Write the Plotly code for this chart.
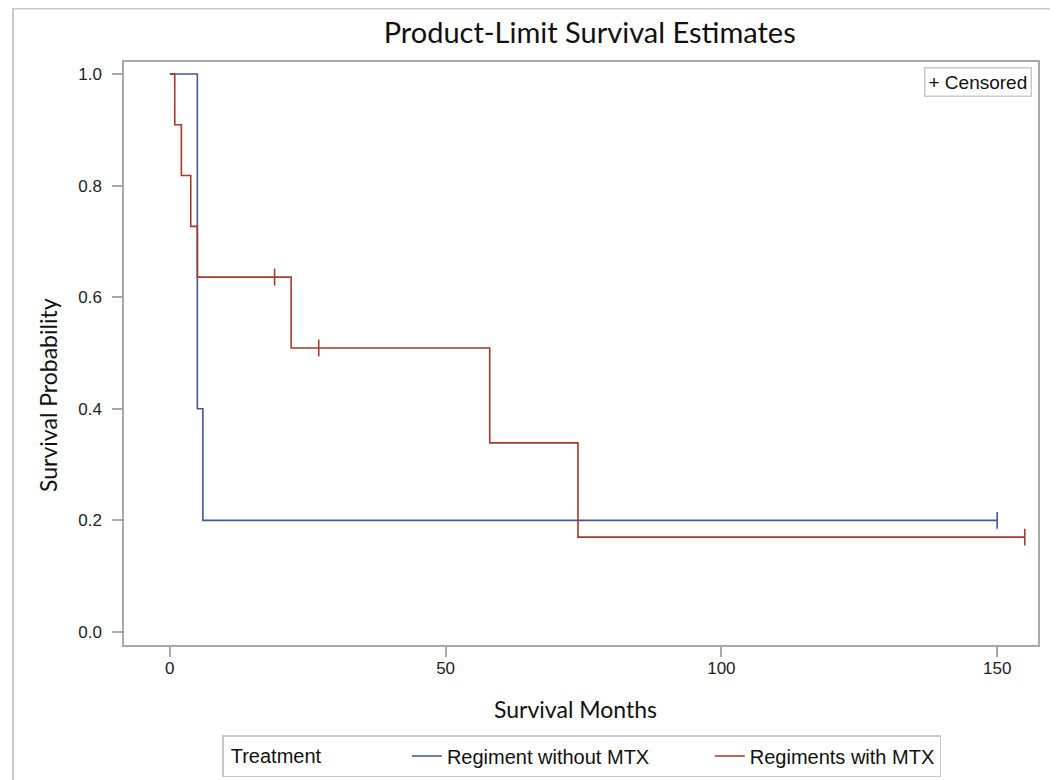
import plotly.graph_objects as go

# Kaplan-Meier step data
blue_name = "Regiment without MTX"
blue_times = [0, 5, 6, 150]
blue_surv = [1.0, 0.4, 0.2, 0.2]
blue_cens_t = [150]
blue_cens_s = [0.2]

red_name = "Regiments with MTX"
red_times = [0, 0.9, 2.1, 3.8, 5.0, 22, 58, 74, 155]
red_surv = [1.0, 0.909, 0.818, 0.727, 0.636, 0.509, 0.339, 0.170, 0.170]
red_cens_t = [19, 27, 155]
red_cens_s = [0.636, 0.509, 0.170]

x_ticks = [0, 50, 100, 150]
y_ticks = [0.0, 0.2, 0.4, 0.6, 0.8, 1.0]

BLUE = "#445694"
RED = "#A23A2E"
GRID = "#A8A8A8"
TXT = "#111111"

fig = go.Figure()
fig.add_trace(go.Scatter(x=blue_times, y=blue_surv, mode="lines", line_shape="hv",
                         line=dict(color=BLUE, width=1.6), name=blue_name + " " * 10))
fig.add_trace(go.Scatter(x=red_times, y=red_surv, mode="lines", line_shape="hv",
                         line=dict(color=RED, width=1.6), name=red_name))
fig.add_trace(go.Scatter(x=blue_cens_t, y=blue_cens_s, mode="markers", showlegend=False,
                         marker=dict(symbol="line-ns", size=12, line=dict(color=BLUE, width=1.6))))
fig.add_trace(go.Scatter(x=red_cens_t, y=red_cens_s, mode="markers", showlegend=False,
                         marker=dict(symbol="line-ns", size=12, line=dict(color=RED, width=1.6))))

tickfont = dict(family="Liberation Sans, Arial", size=17, color="#222")
fig.update_xaxes(range=[-8.3, 157.4], tickvals=x_ticks, ticks="outside", ticklen=10,
                 tickcolor=GRID, tickwidth=1.5, showline=True, linecolor=GRID, linewidth=1.5, mirror=True,
                 showgrid=False, zeroline=False, tickfont=tickfont, ticklabelstandoff=-3)
fig.update_yaxes(range=[-0.0233, 1.0215], tickvals=y_ticks, tickformat=".1f", ticks="outside",
                 ticklen=10, tickcolor=GRID, tickwidth=1.5, showline=True, linecolor=GRID, linewidth=1.5,
                 mirror=True, showgrid=False, zeroline=False, tickfont=tickfont, ticklabelstandoff=7)

W, H = 1050, 772
fig.update_layout(
    width=W, height=H,
    margin=dict(l=116, r=20, t=54, b=135, autoexpand=False),
    paper_bgcolor="white", plot_bgcolor="white",
    title=dict(text="Product-Limit Survival Estimates", x=581.7 / W, xanchor="center",
               y=1 - 25 / H, yanchor="middle",
               font=dict(family="Lato, Carlito", size=29, color=TXT)),
    legend=dict(orientation="h", xref="container", yref="container",
                x=214 / W, xanchor="left", y=1 - 727 / H, yanchor="top",
                bordercolor="#C8C8C8", borderwidth=1.5,
                title=dict(text=" Treatment" + " " * 14, side="left",
                           font=dict(family="Liberation Sans, Arial", size=20, color=TXT)),
                font=dict(family="Liberation Sans, Arial", size=20, color=TXT),
                itemwidth=30, traceorder="normal"),
    showlegend=True,
)

# axis titles
fig.add_annotation(text="Survival Months", xref="paper", yref="paper", x=0.4945, y=-0.1098,
                   xanchor="center", yanchor="middle", showarrow=False,
                   font=dict(family="Lato, Carlito", size=23, color=TXT))
fig.add_annotation(text="Survival Probability", xref="paper", yref="paper", x=-0.0832, y=0.4288,
                   xanchor="center", yanchor="middle", showarrow=False, textangle=-90,
                   font=dict(family="Lato, Carlito", size=23, color=TXT))

fig.add_annotation(text="+ Censored", xref="paper", yref="paper", x=0.993, y=0.992,
                   xanchor="right", yanchor="top", showarrow=False,
                   font=dict(family="Liberation Sans, Arial", size=19, color=TXT),
                   bordercolor="#C8C8C8", borderwidth=1.5, borderpad=3, bgcolor="white")

# outer frame
fig.add_shape(type="rect", xref="paper", yref="paper", x0=-0.1214, x1=1.0208, y0=-0.26, y1=1.0918,
              line=dict(color="#C8C8C8", width=2), layer="below")

fig.write_html("out.html")
